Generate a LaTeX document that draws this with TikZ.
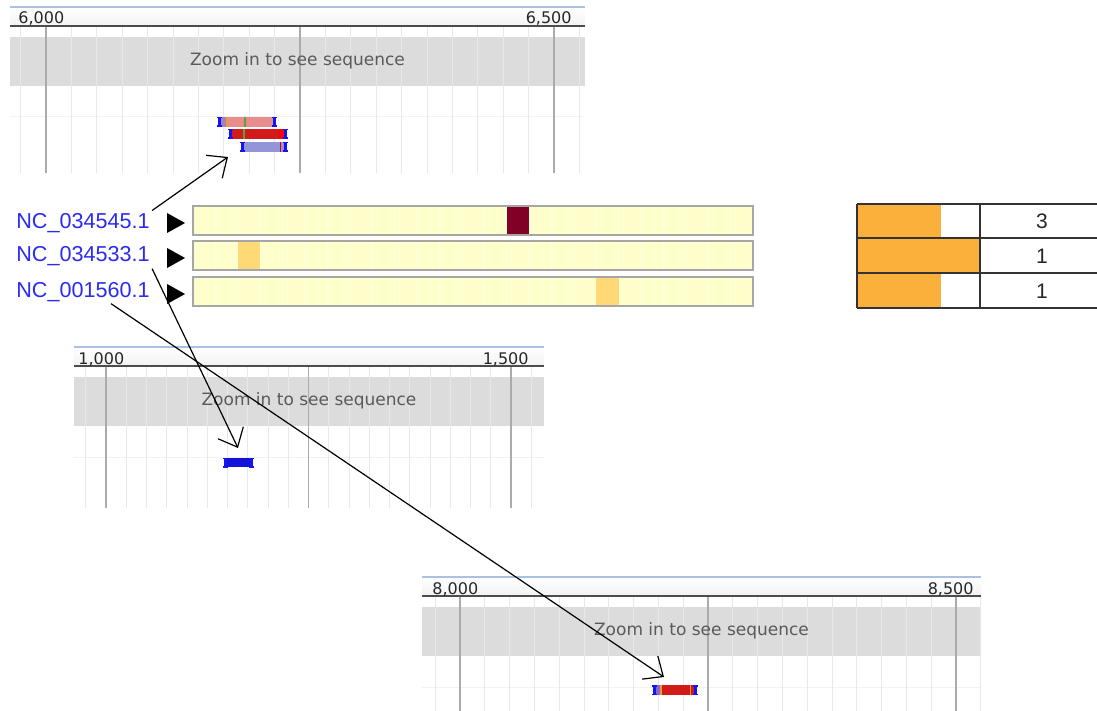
\documentclass[tikz,border=0pt]{standalone}
\usepackage{fontspec}
\usetikzlibrary{arrows.meta}
\newfontfamily\accfont{Liberation Sans}
\newfontfamily\uifont{DejaVu Sans}

\definecolor{rulerblue}{HTML}{A9C1E3}
\definecolor{panelgray}{HTML}{DCDCDC}
\definecolor{minorgrid}{HTML}{E8E8E8}
\definecolor{majorgrid}{HTML}{ABABAB}
\definecolor{notegray}{HTML}{5A5A5A}
\definecolor{capblue}{HTML}{1414F0}
\definecolor{hitpink}{HTML}{E88C8C}
\definecolor{hitred}{HTML}{D21A1A}
\definecolor{hitlav}{HTML}{9494D8}
\definecolor{hitpurple}{HTML}{A080C8}
\definecolor{hitorange}{HTML}{F09A30}
\definecolor{hitgreen}{HTML}{5FA03A}
\definecolor{heatbase}{HTML}{FFFFCC}
\definecolor{heatdark}{HTML}{800026}
\definecolor{heatpale}{HTML}{FED976}
\definecolor{barframe}{HTML}{A6A6A6}
\definecolor{accblue}{HTML}{2B2BF2}
\definecolor{tableorange}{HTML}{FBB03B}
\definecolor{tableline}{HTML}{333333}

\tikzset{
    minorline/.style={draw=minorgrid, line width=0.5pt},
    majorline/.style={draw=majorgrid, line width=0.6pt},
    ticklabel/.style={font=\uifont\fontsize{8}{9}\selectfont, text=black!85, inner sep=0pt},
    seqnote/.style={font=\uifont\fontsize{8.5}{10}\selectfont, text=notegray, inner sep=0pt},
    acclabel/.style={font=\accfont\fontsize{10.8}{12}\selectfont, text=accblue, inner sep=1pt, anchor=base west},
    countlabel/.style={font=\accfont\fontsize{10.5}{12}\selectfont, text=black!85, inner sep=0pt},
    pointer/.style={draw=black, line width=0.6pt, -{Straight Barb[length=8pt,width=14pt]}}
}

% left, right, top, bottom, first major tick, tick step, labels, name prefix
\newcommand{\seqpanel}[9]{
    \fill[panelgray] (#1,#3+30) rectangle (#2,#3+79);
    \draw[draw=black!5, line width=0.5pt] (#1,#3+110) -- (#2,#3+110);
    \foreach \i in {-1,...,21}
        \draw[minorline] ({#5+\i*#6},#3+20) -- ({#5+\i*#6},#4);
    \foreach \i in {0,10,20}
        \draw[majorline] ({#5+\i*#6},#3+20) -- ({#5+\i*#6},#4);
    \shade[top color=white, bottom color=black!5] (#1,#3) rectangle (#2,#3+19);
    \draw[draw=rulerblue, line width=1.3pt] (#1,#3) -- (#2,#3);
    \draw[draw=black!70, line width=0.8pt] (#1,#3+19) -- (#2,#3+19);
    \node[ticklabel, anchor=base west] (#9l) at ({#5-28},#3+17) {#7};
    \node[ticklabel, anchor=base east] (#9r) at ({#5+20*#6+18},#3+17) {#8};
    \node[seqnote] (#9z) at ({(#1+#2)/2},#3+54) {Zoom in to see sequence};
}

% blue end mark of an aligned hit
\newcommand{\hitcap}[2]{
    \fill[capblue] (#1,#2) rectangle (#1+3,#2+10);
    \fill[capblue] (#1-1,#2) rectangle (#1+4,#2+1.5);
    \fill[capblue] (#1-1,#2+8.5) rectangle (#1+4,#2+10);
}

\begin{document}
\begin{tikzpicture}[x=0.5pt, y=-0.5pt]
    \useasboundingbox (0,0) rectangle (1097,711);
    \fill[white] (0,0) rectangle (1097,711);

    \seqpanel{10}{585}{7}{173}{46}{25.4}{6,000}{6,500}{top}
    \seqpanel{74}{544}{347}{508}{106}{20.25}{1,000}{1,500}{mid}
    \seqpanel{422}{981}{577}{711}{460}{24.8}{8,000}{8,500}{low}

    % hits in the first panel
    \fill[hitpink] (221,117) rectangle (274,127);
    \fill[hitpurple] (221,117) rectangle (226,127);
    \fill[hitorange] (226,117) rectangle (227.5,127);
    \fill[hitgreen] (243.5,117) rectangle (245.5,127);
    \hitcap{218}{117} \hitcap{273}{117}
    \fill[hitred] (232,129) rectangle (284,139);
    \fill[hitgreen] (242.5,129) rectangle (244.5,139);
    \fill[red] (279,129) rectangle (284,139);
    \hitcap{229}{129} \hitcap{284}{129}
    \fill[hitlav] (244,142) rectangle (284,152);
    \fill[red!85!black] (279.5,142) rectangle (281,152);
    \hitcap{241}{142} \hitcap{284}{142}

    % hit in the second panel
    \fill[capblue!90!black] (226,458) rectangle (251,467);
    \hitcap{224}{457.5} \hitcap{250}{457.5}

    % hit in the third panel
    \fill[hitred] (656,685) rectangle (694,695);
    \fill[hitpurple!80!blue] (656,685) rectangle (660,695);
    \fill[hitorange] (660,685) rectangle (661.5,695);
    \fill[hitorange] (689.5,685) rectangle (691,695);
    \hitcap{653}{685} \hitcap{694}{685}

    % accession rows with heat bars
    \foreach \y/\c/\k in {206/heatdark/14, 241/heatpale/2, 277/heatpale/18} {
        \fill[heatbase] (193,\y) rectangle (753,\y+29);
        \foreach \j in {1,...,24}
            \draw[draw=white!45!heatbase, line width=0.5pt] ({193+\j*22.4},\y) -- ({193+\j*22.4},\y+29);
        \fill[\c] ({193+\k*22.4},\y) rectangle ({193+(\k+1)*22.4},\y+29);
        \draw[draw=barframe, line width=1pt] (193,\y) rectangle (753,\y+29);
        \fill[black] (167,\y+7) -- (167,\y+27) -- (185,\y+17) -- cycle;
    }
    \node[acclabel] (accA) at (14,228) {NC\_034545.1};
    \node[acclabel] (accB) at (14,262) {NC\_034533.1};
    \node[acclabel] (accC) at (14,297) {NC\_001560.1};

    % count table
    \fill[tableorange] (857,204) rectangle (941,238);
    \fill[tableorange] (857,238) rectangle (980,273);
    \fill[tableorange] (857,273) rectangle (941,308);
    \foreach \y in {204,238,273,308}
        \draw[draw=tableline, line width=1pt] (857,\y) -- (1097,\y);
    \foreach \x in {857,980}
        \draw[draw=tableline, line width=1pt] (\x,204) -- (\x,308);
    \node[countlabel] (cntA) at (1042,221) {3};
    \node[countlabel] (cntB) at (1042,256) {1};
    \node[countlabel] (cntC) at (1042,291) {1};

    \coordinate (tipA) at (228,157);
    \coordinate (tipB) at (238,448);
    \coordinate (tipC) at (664,677);
    \draw[pointer] (accA.north east) -- (tipA);
    \draw[pointer] (accB.south east) -- (tipB);
    \draw[pointer] ([xshift=14pt]accC.south) -- (tipC);
\end{tikzpicture}
\end{document}
